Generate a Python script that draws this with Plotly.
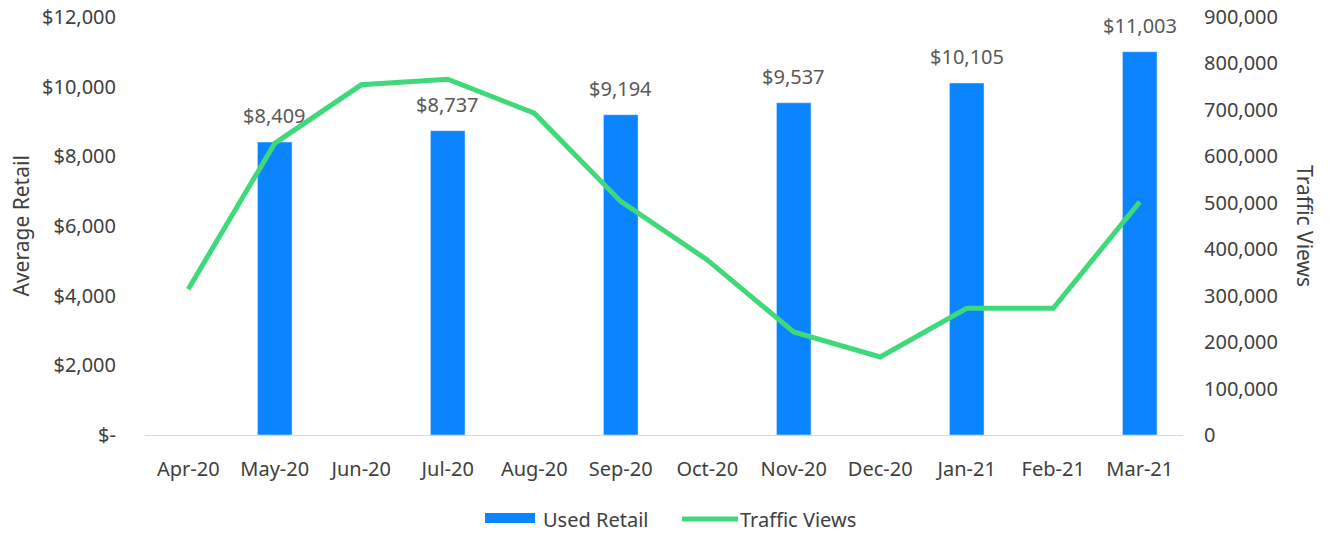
import plotly.graph_objects as go

months = ["Apr-20", "May-20", "Jun-20", "Jul-20", "Aug-20", "Sep-20",
          "Oct-20", "Nov-20", "Dec-20", "Jan-21", "Feb-21", "Mar-21"]
retail_months = ["May-20", "Jul-20", "Sep-20", "Nov-20", "Jan-21", "Mar-21"]
used_retail = [8409, 8737, 9194, 9537, 10105, 11003]
traffic_views = [314000, 628000, 754000, 766000, 693000, 503000,
                 377000, 222000, 168000, 273000, 273000, 502000]

left_ticks = [0, 2000, 4000, 6000, 8000, 10000, 12000]
left_labels = ["$-", "$2,000", "$4,000", "$6,000", "$8,000", "$10,000", "$12,000"]
right_ticks = [0, 100000, 200000, 300000, 400000, 500000, 600000, 700000, 800000, 900000]
right_labels = ["0", "100,000", "200,000", "300,000", "400,000", "500,000",
                "600,000", "700,000", "800,000", "900,000"]

FONT = "Noto Sans"
TICK_COLOR = "#404040"
LABEL_COLOR = "#595959"
BAR_COLOR = "#0A84FF"
LINE_COLOR = "#3FD97B"
FS = 20

fig = go.Figure()
fig.add_trace(go.Bar(
    x=retail_months, y=used_retail, name="Used Retail",
    marker_color=BAR_COLOR, width=0.4, showlegend=False,
))
fig.add_trace(go.Scatter(
    x=months, y=traffic_views, name="Traffic Views", yaxis="y2",
    mode="lines", line=dict(color=LINE_COLOR, width=5), showlegend=False,
))

annotations = []
for m, v in zip(retail_months, used_retail):
    annotations.append(dict(x=m, y=v, xref="x", yref="y", text=f"${v:,.0f}",
                            showarrow=False, yanchor="bottom", yshift=11,
                            font=dict(family=FONT, size=FS, color=LABEL_COLOR)))

annotations += [
    dict(text="Traffic Views", xref="paper", yref="paper", x=1.1175, y=0.5,
         xanchor="center", yanchor="middle", textangle=90, showarrow=False,
         font=dict(family=FONT, size=21, color=TICK_COLOR)),
    dict(text="Average Retail", xref="paper", yref="paper", x=-0.119, y=0.5,
         xanchor="center", yanchor="middle", textangle=-90, showarrow=False,
         font=dict(family=FONT, size=21, color=TICK_COLOR)),
    dict(text="Used Retail", xref="paper", yref="paper", x=0.3815, y=-0.201,
         xanchor="left", yanchor="middle", showarrow=False,
         font=dict(family=FONT, size=FS, color=TICK_COLOR)),
    dict(text="Traffic Views", xref="paper", yref="paper", x=0.5713, y=-0.201,
         xanchor="left", yanchor="middle", showarrow=False,
         font=dict(family=FONT, size=FS, color=TICK_COLOR)),
]

shapes = [
    dict(type="rect", xref="paper", yref="paper", x0=0.3276, x1=0.3757,
         y0=-0.2105, y1=-0.1866, fillcolor=BAR_COLOR, line=dict(width=0)),
    dict(type="line", xref="paper", yref="paper", x0=0.5173, x1=0.5713,
         y0=-0.201, y1=-0.201, line=dict(color=LINE_COLOR, width=5)),
]

# page body adds an 8px offset; margins compensate so the plot lands where the reference has it
fig.update_layout(
    width=1330, height=533,
    margin=dict(l=137, r=155, t=9, b=106),
    paper_bgcolor="white", plot_bgcolor="white",
    font=dict(family=FONT, size=FS, color=TICK_COLOR),
    showlegend=False,
    xaxis=dict(categoryorder="array", categoryarray=months, type="category",
               showgrid=False, showline=True, linecolor="#d9d9d9", linewidth=1,
               ticks="", ticklabelstandoff=16, automargin=False,
               tickfont=dict(family=FONT, size=FS, color=TICK_COLOR),
               range=[-0.5, 11.5]),
    yaxis=dict(range=[0, 12000], tickvals=left_ticks, ticktext=left_labels,
               showgrid=False, zeroline=False, ticklabelstandoff=28, automargin=False,
               ticklabeloverflow="allow",
               tickfont=dict(family=FONT, size=FS, color=TICK_COLOR)),
    yaxis2=dict(range=[0, 900000], tickvals=right_ticks, ticktext=right_labels,
                overlaying="y", side="right", showgrid=False, zeroline=False,
                ticklabelstandoff=20, automargin=False, ticklabeloverflow="allow",
                tickfont=dict(family=FONT, size=FS, color=TICK_COLOR)),
    annotations=annotations,
    shapes=shapes,
)

fig.write_html("out.html")
